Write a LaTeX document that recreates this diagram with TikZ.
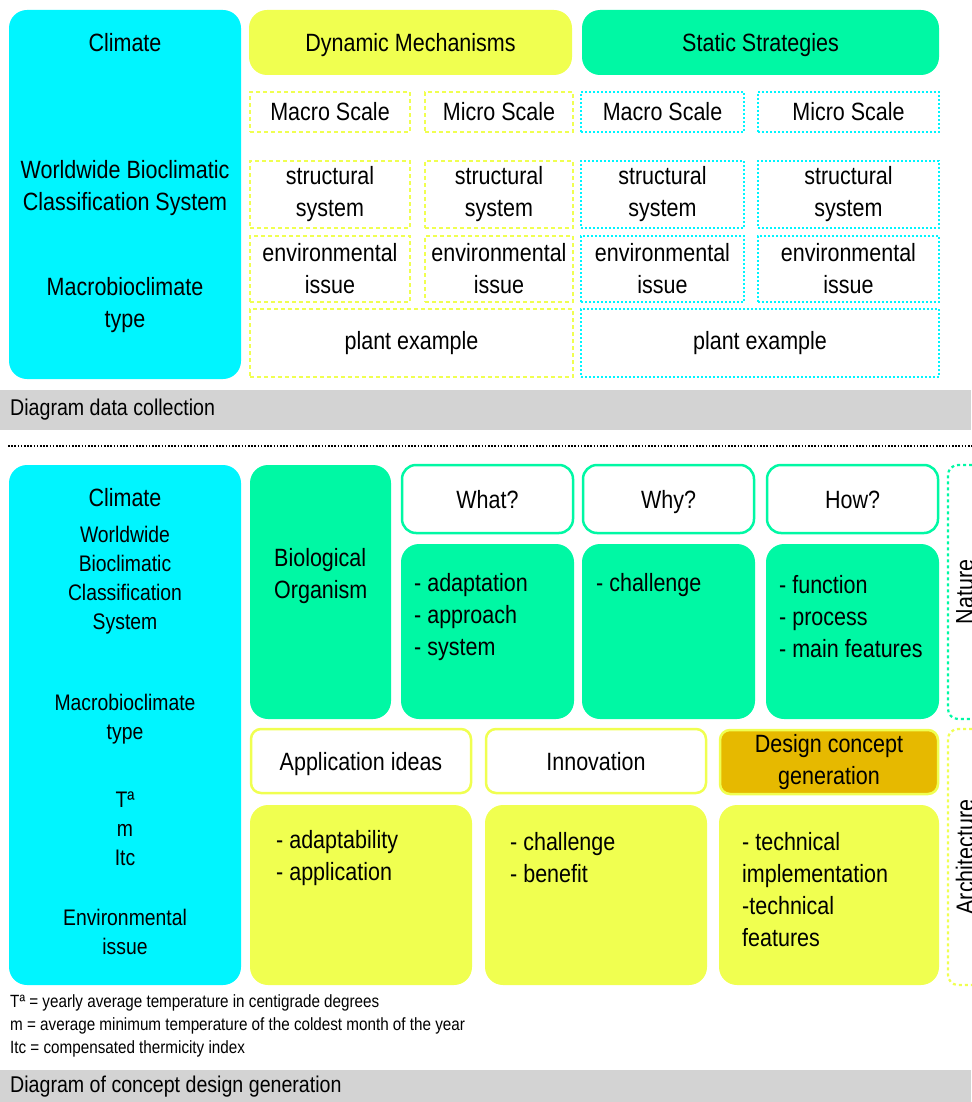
\documentclass[tikz,border=0pt]{standalone}
\usepackage{fontspec}
\setmainfont{Liberation Sans}[FakeStretch=0.86]
\definecolor{clcyan}{RGB}{0,245,255}
\definecolor{clgreen}{RGB}{0,248,164}
\definecolor{clyellow}{RGB}{240,255,80}
\definecolor{cldark}{RGB}{230,185,0}
\definecolor{clgray}{RGB}{211,211,211}
\newcommand\mainsz{\fontsize{25}{32}\selectfont}
\newcommand\smallsz{\fontsize{22.5}{29}\selectfont}
\newcommand\notesz{\fontsize{17.7}{23}\selectfont}
\newcommand\bandsz{\fontsize{22.8}{26}\selectfont}
\tikzset{
  lbl/.style={inner sep=0pt, align=center, font=\mainsz},
  lbll/.style={inner sep=0pt, align=left, font=\mainsz, anchor=west},
  slbl/.style={inner sep=0pt, align=center, font=\smallsz},
  oneline/.style={text height=18pt, text depth=0pt},
  solidbox/.style={draw=none, rounded corners=18pt, inner sep=0pt},
  cyanbox/.style={solidbox, fill=clcyan},
  greenbox/.style={solidbox, fill=clgreen},
  yellowbox/.style={solidbox, fill=clyellow},
  headgreen/.style={draw=clgreen, line width=2.5pt, fill=white, rounded corners=14pt, inner sep=0pt, font=\mainsz, align=center},
  headyellow/.style={draw=clyellow, line width=2.5pt, fill=white, rounded corners=10pt, inner sep=0pt, font=\mainsz, align=center},
  dashyellow/.style={draw=clyellow, line width=2pt, dash pattern=on 4pt off 3pt, inner sep=0pt, font=\mainsz, align=center},
  dotcyan/.style={draw=clcyan, line width=2.2pt, dash pattern=on 2pt off 2pt, inner sep=0pt, font=\mainsz, align=center},
  band/.style={fill=clgray, draw=none, inner sep=0pt, anchor=north west},
  bandtext/.style={inner sep=0pt, anchor=west, font=\bandsz},
  note/.style={inner sep=0pt, anchor=west, font=\notesz},
}
\begin{document}
\begin{tikzpicture}[x=1pt,y=-1pt]
\useasboundingbox (0,0) rectangle (971,1102);

% ---------- data collection ----------
\node[cyanbox, minimum width=232pt, minimum height=369pt] (climA) at (125,194.5) {};
\node[lbl] (climAt) at (125,43) {Climate};
\node[lbl] (climAw) at (125,188) {Worldwide Bioclimatic\\Classification System};
\node[lbl] (climAm) at (125,305) {Macrobioclimate\\type};

\node[yellowbox, oneline, minimum width=323pt, minimum height=65pt, font=\mainsz] (dyn) at (410.5,42.5) {Dynamic Mechanisms};
\node[greenbox, oneline, minimum width=357pt, minimum height=65pt, font=\mainsz] (stat) at (760.5,42.5) {Static Strategies};

% dynamic columns
\node[dashyellow, oneline, minimum width=160pt, minimum height=40pt] (dmA) at (330,112) {Macro Scale};
\node[dashyellow, oneline, minimum width=148pt, minimum height=40pt] (dmB) at (499,112) {Micro Scale};
\node[dashyellow, minimum width=160pt, minimum height=67pt] (dsA) at (330,194.5) {structural\\system};
\node[dashyellow, minimum width=148pt, minimum height=67pt] (dsB) at (499,194.5) {structural\\system};
\node[dashyellow, minimum width=160pt, minimum height=66pt] (deA) at (330,269) {environmental\\issue};
\node[dashyellow, minimum width=148pt, minimum height=66pt] (deB) at (499,269) {environmental\\issue};
\node[dashyellow, minimum width=323pt, minimum height=68pt] (dp) at (411.5,343) {plant example};

% static columns
\node[dotcyan, oneline, minimum width=163pt, minimum height=40pt] (smA) at (662.5,112) {Macro Scale};
\node[dotcyan, oneline, minimum width=181pt, minimum height=40pt] (smB) at (848.5,112) {Micro Scale};
\node[dotcyan, minimum width=163pt, minimum height=67pt] (ssA) at (662.5,194.5) {structural\\system};
\node[dotcyan, minimum width=181pt, minimum height=67pt] (ssB) at (848.5,194.5) {structural\\system};
\node[dotcyan, minimum width=163pt, minimum height=66pt] (seA) at (662.5,269) {environmental\\issue};
\node[dotcyan, minimum width=181pt, minimum height=66pt] (seB) at (848.5,269) {environmental\\issue};
\node[dotcyan, minimum width=358pt, minimum height=68pt] (sp) at (760,343) {plant example};

\node[band, minimum width=971pt, minimum height=40pt] (band1) at (0,390) {};
\node[bandtext] (band1t) at (10,410) {Diagram data collection};

% separator
\coordinate (sepL) at (8,446);
\coordinate (sepR) at (975,446);
\draw[line width=2.2pt, dash pattern=on 1.6pt off 1.6pt] (sepL) -- (sepR);

% ---------- concept design generation ----------
\node[cyanbox, minimum width=232pt, minimum height=520pt] (climB) at (125,725) {};
\node[lbl] (climBt) at (125,498) {Climate};
\node[slbl] (climBw) at (125,580.5) {Worldwide\\Bioclimatic\\Classification\\System};
\node[slbl] (climBm) at (125,719.5) {Macrobioclimate\\type};
\node[slbl] (climBv) at (125,829) {T\char"00AA\\m\\Itc};
\node[slbl] (climBe) at (125,932) {Environmental\\issue};

\node[greenbox, minimum width=141pt, minimum height=254pt] (bio) at (320.5,592) {};
\node[lbll] (biot) at (274,576) {Biological\\Organism};

\node[headgreen, oneline, minimum width=171pt, minimum height=68pt] (what) at (487.5,499) {What?};
\node[headgreen, oneline, minimum width=171pt, minimum height=68pt] (why) at (668.5,499) {Why?};
\node[headgreen, oneline, minimum width=171pt, minimum height=68pt] (how) at (852.5,499) {How?};

\node[greenbox, minimum width=173pt, minimum height=175pt] (whatc) at (487.5,631.5) {};
\node[greenbox, minimum width=173pt, minimum height=175pt] (whyc) at (668.5,631.5) {};
\node[greenbox, minimum width=173pt, minimum height=175pt] (howc) at (852.5,631.5) {};
\node[lbll] (whatt) at (414,617) {- adaptation\\- approach\\- system};
\node[lbll] (whyt) at (596,585) {- challenge};
\node[lbll] (howt) at (779,617) {- function\\- process\\- main features};

\draw[clgreen, line width=2.2pt, dash pattern=on 3pt off 3pt, rounded corners=10pt]
  (990,465) -- (948,465) -- (948,719) -- (990,719);
\node[inner sep=0pt, font=\mainsz, rotate=90] (nat) at (965,592) {Nature};

\node[headyellow, oneline, minimum width=220pt, minimum height=64pt] (app) at (361,761) {Application ideas};
\node[headyellow, oneline, minimum width=220pt, minimum height=64pt] (inno) at (596,761) {Innovation};
\node[headyellow, fill=cldark, minimum width=218pt, minimum height=64pt] (dcg) at (829,762) {Design concept\\generation};

\node[yellowbox, minimum width=222pt, minimum height=180pt] (appc) at (361,895) {};
\node[yellowbox, minimum width=222pt, minimum height=180pt] (innoc) at (596,895) {};
\node[yellowbox, minimum width=220pt, minimum height=180pt] (dcgc) at (829,895) {};
\node[lbll] (appt) at (276,858) {- adaptability\\- application};
\node[lbll] (innot) at (510,858) {- challenge\\- benefit};
\node[lbll] (dcgt) at (742,890) {- technical\\implementation\\-technical\\features};

\draw[clyellow, line width=2.2pt, dash pattern=on 3pt off 3pt, rounded corners=10pt]
  (990,729) -- (948,729) -- (948,985) -- (990,985);
\node[inner sep=0pt, font=\mainsz, rotate=90] (arch) at (965,857) {Architecture};

\node[note] (n1) at (10,1003) {T\char"00AA{} = yearly average temperature in centigrade degrees};
\node[note] (n2) at (10,1026) {m = average minimum temperature of the coldest month of the year};
\node[note] (n3) at (10,1049) {Itc = compensated thermicity index};

\node[band, minimum width=971pt, minimum height=34pt] (band2) at (0,1070) {};
\node[bandtext] (band2t) at (10,1087) {Diagram of concept design generation};
\end{tikzpicture}
\end{document}
